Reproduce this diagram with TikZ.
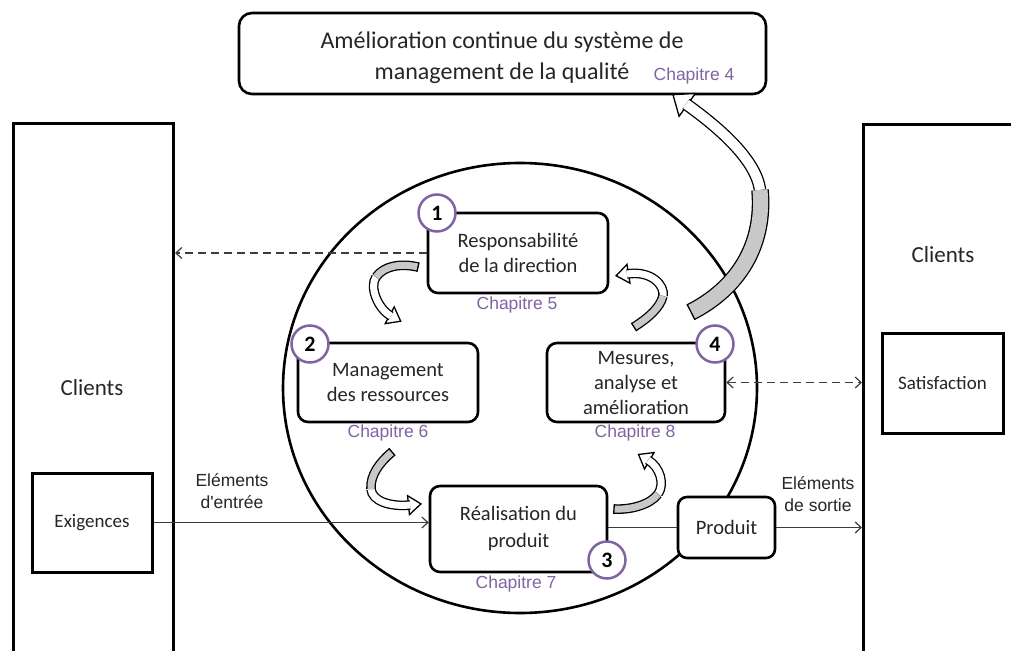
\documentclass[tikz,border=0pt]{standalone}
\usepackage{fontspec}
\setmainfont{Carlito}
\newfontfamily\arialfam{Liberation Sans}
\usetikzlibrary{arrows.meta,calc}
\definecolor{chapc}{RGB}{128,100,162}
\definecolor{ribgray}{RGB}{200,200,200}
\definecolor{txt}{RGB}{38,38,38}
\definecolor{connc}{RGB}{60,60,60}
% #1 name, #2 gray width, #3 white width, #4 tail half width, #5 head half width, #6 head length
\newcommand{\ribarrow}[6]{%
  \coordinate (#1-B) at ($(#1-H)!1.5pt!(#1-d)$);
  \draw[headsty] ($(#1-B)!#5!90:(#1-d)$) -- ($(#1-H)!-#6!(#1-d)$) -- ($(#1-B)!#5!-90:(#1-d)$) -- cycle;
  \draw[ribline, double=white, double distance=#3] (#1-M) .. controls (#1-c) and (#1-d) .. (#1-H);
  \draw[ribline, double=ribgray, double distance=#2] (#1-T) .. controls (#1-a) and (#1-b) .. (#1-M);
  \draw[line width=1.3pt] ($(#1-T)!#4!90:(#1-a)$) -- ($(#1-T)!#4!-90:(#1-a)$);
}
\begin{document}
\begin{tikzpicture}[x=1pt,y=-1pt,
  box/.style={draw=black, line width=2.6pt, rounded corners=10pt, fill=white, align=center, text=txt, font=\fontsize{20.5}{25}\selectfont, inner sep=0pt},
  sqbox/.style={draw=black, line width=3pt, fill=white, inner sep=0pt, text=txt, font=\fontsize{19}{19}\selectfont},
  bigrect/.style={draw=black, line width=3pt, inner sep=0pt, anchor=north west, minimum height=560pt},
  chap/.style={text=chapc, font=\arialfam\fontsize{17.5}{20}\selectfont, inner sep=0pt},
  elab/.style={text=txt, font=\arialfam\fontsize{17.5}{22}\selectfont, align=center, inner sep=0pt},
  num/.style={circle, draw=chapc, line width=2.5pt, fill=white, minimum size=37pt, inner sep=0pt, font=\bfseries\fontsize{22}{22}\selectfont, text=black},
  clients/.style={text=txt, font=\fontsize{23}{23}\selectfont, inner sep=0pt},
  conn/.style={draw=connc, line width=1.2pt},
  dashconn/.style={conn, dash pattern=on 8pt off 5pt},
  barb/.style={-{Straight Barb[length=6pt,width=11pt]}},
  dbarb/.style={{Straight Barb[length=6pt,width=11pt]}-{Straight Barb[length=6pt,width=11pt]}},
  headsty/.style={draw=black, line width=1.3pt, fill=white, line join=miter},
  ribline/.style={draw=black, line width=1.3pt}
]
\useasboundingbox (0,0) rectangle (1011,650);
\begin{scope}
\clip (0,0) rectangle (1011,650);
\fill[white] (0,0) rectangle (1011,650);

% top box
\node[box, minimum width=527pt, minimum height=81pt, rounded corners=13pt] (top) at (502.5,53.5) {};
\node[text=txt, font=\fontsize{24}{31}\selectfont, align=center, inner sep=0pt] (ttl) at (502,57.5) {Amélioration continue du système de\\management de la qualité};
\node[chap] (c4) at (694,76) {Chapitre 4};

% side rectangles
\node[bigrect, minimum width=160pt] (lr) at (12,122) {};
\node[bigrect, minimum width=200pt] (rr) at (862,123) {};
\node[clients] (cl) at (92,388) {Clients};
\node[clients] (cr) at (943,255) {Clients};
\node[sqbox, minimum width=120pt, minimum height=99pt] (ex) at (92,522.5) {Exigences};
\node[sqbox, minimum width=121pt, minimum height=100pt] (sat) at (942.5,383) {Satisfaction};

% circle
\draw[line width=2.6pt] (520,388) ellipse [x radius=237pt, y radius=225pt];

% process boxes
\node[box, minimum width=180pt, minimum height=80pt] (b1) at (518,253) {Responsabilité\\de la direction};
\node[box, minimum width=180pt, minimum height=79pt] (b2) at (388,382.5) {Management\\des ressources};
\node[box, minimum width=178pt, minimum height=79pt] (b4) at (636,382.5) {Mesures,\\analyse et\\amélioration};
\node[box, minimum width=177pt, minimum height=86pt, font=\fontsize{20.5}{27}\selectfont] (b3) at (518.5,529) {Réalisation du\\produit};
\node[box, minimum width=97pt, minimum height=61pt, rounded corners=9pt] (pr) at (726.5,527.5) {Produit};

\node[chap] (c5) at (517,305) {Chapitre 5};
\node[chap] (c6) at (388,433) {Chapitre 6};
\node[chap] (c8) at (635,433) {Chapitre 8};
\node[chap] (c7) at (516,584) {Chapitre 7};

% connectors
\draw[dashconn, barb] (b1.west) -- (b1.west -| lr.east);
\draw[dashconn, dbarb] (b4.east) -- (b4.east -| rr.west);
\draw[conn, barb] (ex.east) -- (ex.east -| b3.west);
\draw[conn] (pr.west -| b3.east) -- (pr.west);
\draw[conn, barb] (pr.east) -- (pr.east -| rr.west);

\node[elab] (ein) at (232,491) {Eléments\\d'entrée};
\node[elab] (eso) at (818,494) {Eléments\\de sortie};

% ribbon arrows
\coordinate (A-T) at (418,267); \coordinate (A-a) at (400,263); \coordinate (A-b) at (384,266);
\coordinate (A-M) at (376,277); \coordinate (A-c) at (369,287); \coordinate (A-d) at (378,309);
\coordinate (A-H) at (391,316);
\ribarrow{A}{7pt}{7pt}{4.8pt}{9.5pt}{11pt}

\coordinate (B-T) at (634,327); \coordinate (B-a) at (648,318); \coordinate (B-b) at (660,308);
\coordinate (B-M) at (663,296); \coordinate (B-c) at (665,286); \coordinate (B-d) at (652,270);
\coordinate (B-H) at (627,274);
\ribarrow{B}{7pt}{7pt}{4.8pt}{9.5pt}{11pt}

\coordinate (C-T) at (392,452); \coordinate (C-a) at (380,462); \coordinate (C-b) at (370,475);
\coordinate (C-M) at (371,489); \coordinate (C-c) at (372,501); \coordinate (C-d) at (390,507);
\coordinate (C-H) at (410,505);
\ribarrow{C}{7pt}{7pt}{4.8pt}{9.5pt}{11pt}

\coordinate (D-T) at (614,509); \coordinate (D-a) at (630,510); \coordinate (D-b) at (650,505);
\coordinate (D-M) at (658,494); \coordinate (D-c) at (665,484); \coordinate (D-d) at (660,467);
\coordinate (D-H) at (648,460);
\ribarrow{D}{7pt}{7pt}{4.8pt}{9.5pt}{11pt}

\coordinate (E-T) at (691,312); \coordinate (E-a) at (738,288); \coordinate (E-b) at (765,245);
\coordinate (E-M) at (760,190); \coordinate (E-c) at (756,158); \coordinate (E-d) at (714,124);
\coordinate (E-H) at (686,104);
\ribarrow{E}{15pt}{10pt}{8.8pt}{14pt}{16pt}

% numbers
\node[num] (n1) at (437,213) {1};
\node[num] (n2) at (310,344) {2};
\node[num] (n4) at (715,344) {4};
\node[num] (n3) at (607,560) {3};
\end{scope}
\end{tikzpicture}
\end{document}
